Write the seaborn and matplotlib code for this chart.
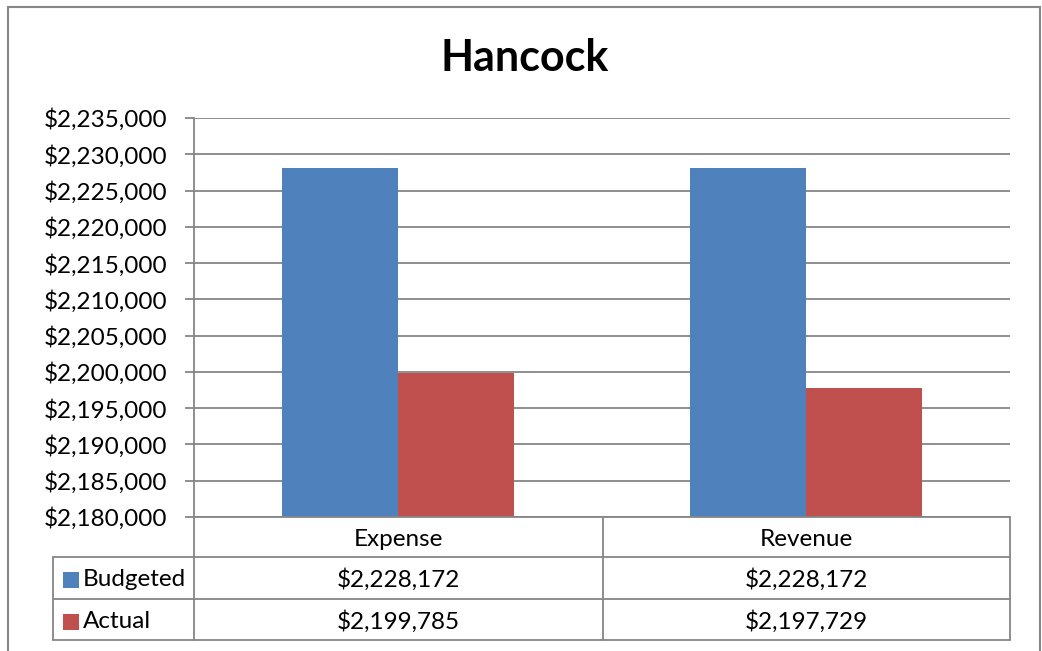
import matplotlib
matplotlib.use("Agg")
import matplotlib.pyplot as plt
from matplotlib.patches import Rectangle
from matplotlib.lines import Line2D
from matplotlib.ticker import FuncFormatter, MultipleLocator
import pandas as pd
import seaborn as sns

# Data
categories = ["Expense", "Revenue"]
series = ["Budgeted", "Actual"]
budgeted = [2228172, 2228172]
actual = [2199785, 2197729]
colors = ["#4F81BD", "#C0504D"]
title = "Hancock"

sns.set_theme(style="white")
plt.rcParams["font.family"] = ["Lato", "DejaVu Sans"]

W, H = 1042, 651
fig = plt.figure(figsize=(W / 100, H / 100), dpi=100)

def fx(px):
    return px / W

def fy(py):
    return 1 - py / H

FS = 17.5
GRID = "#868686"

# Plot area
left, right, top, bottom = 194, 1010, 118, 517
ax = fig.add_axes([fx(left), fy(bottom), fx(right - left), (bottom - top) / H])

df = pd.DataFrame({
    "Category": categories * 2,
    "Series": [series[0]] * len(categories) + [series[1]] * len(categories),
    "Value": budgeted + actual,
})

sns.barplot(data=df, x="Category", y="Value", hue="Series", hue_order=series,
            palette=colors, width=0.567, gap=0, ax=ax, legend=False,
            saturation=1, linewidth=0)

ax.set_ylim(2180000, 2235000)
ax.set_xlim(-0.5, len(categories) - 0.5)
ax.yaxis.set_major_locator(MultipleLocator(5000))
ax.yaxis.set_major_formatter(FuncFormatter(lambda v, p: f"${v:,.0f}"))
ax.grid(axis="y", color=GRID, linewidth=1.3)
ax.set_axisbelow(True)
ax.set_xlabel("")
ax.set_ylabel("")
ax.set_xticks([])
for s in ["top", "right", "bottom"]:
    ax.spines[s].set_visible(False)
ax.spines["left"].set_color(GRID)
ax.spines["left"].set_linewidth(1.3)
ax.tick_params(axis="y", which="major", left=True, length=6.5, width=1.3,
               color=GRID, labelsize=FS, labelcolor="black", pad=13)

# Title
fig.text(fx(525), fy(58), title, ha="center", va="center",
         fontsize=31, fontweight="bold", color="black")

# Outer chart border
fig.add_artist(Rectangle((fx(8), fy(651 + 10)), fx(1040 - 8), (651 + 10 - 7) / H,
                         transform=fig.transFigure, fill=False,
                         edgecolor=GRID, linewidth=1.5))

# Data table below the plot
line_kw = dict(transform=fig.transFigure, color=GRID, linewidth=1.3)
col_edges = [left, 603, right]
row_edges = [bottom, 557, 599, 640]
key_left = 53

def hline(y, x0, x1):
    fig.add_artist(Line2D([fx(x0), fx(x1)], [fy(y), fy(y)], **line_kw))

def vline(x, y0, y1):
    fig.add_artist(Line2D([fx(x), fx(x)], [fy(y0), fy(y1)], **line_kw))

hline(row_edges[0], left, right)
for y in row_edges[1:]:
    hline(y, key_left, right)
for x in col_edges:
    vline(x, row_edges[0], row_edges[-1])
vline(key_left, row_edges[1], row_edges[-1])

TEXT_DROP = 2
txt_kw = dict(ha="center", va="center", fontsize=FS, color="black")
for i, cat in enumerate(categories):
    cx = (col_edges[i] + col_edges[i + 1]) / 2
    fig.text(fx(cx), fy((row_edges[0] + row_edges[1]) / 2 + TEXT_DROP), cat, **txt_kw)
    for r, vals in enumerate([budgeted, actual]):
        cy = (row_edges[r + 1] + row_edges[r + 2]) / 2 + TEXT_DROP
        fig.text(fx(cx), fy(cy), f"${vals[i]:,.0f}", **txt_kw)

for r, (name, c) in enumerate(zip(series, colors)):
    cy = (row_edges[r + 1] + row_edges[r + 2]) / 2 + TEXT_DROP
    fig.add_artist(Rectangle((fx(63), fy(cy + 8)), fx(16), 16 / H,
                             transform=fig.transFigure, facecolor=c,
                             edgecolor="none"))
    fig.text(fx(83), fy(cy), name, ha="left", va="center", fontsize=FS,
             color="black")

fig.savefig("out.png", dpi=100, facecolor="white")
